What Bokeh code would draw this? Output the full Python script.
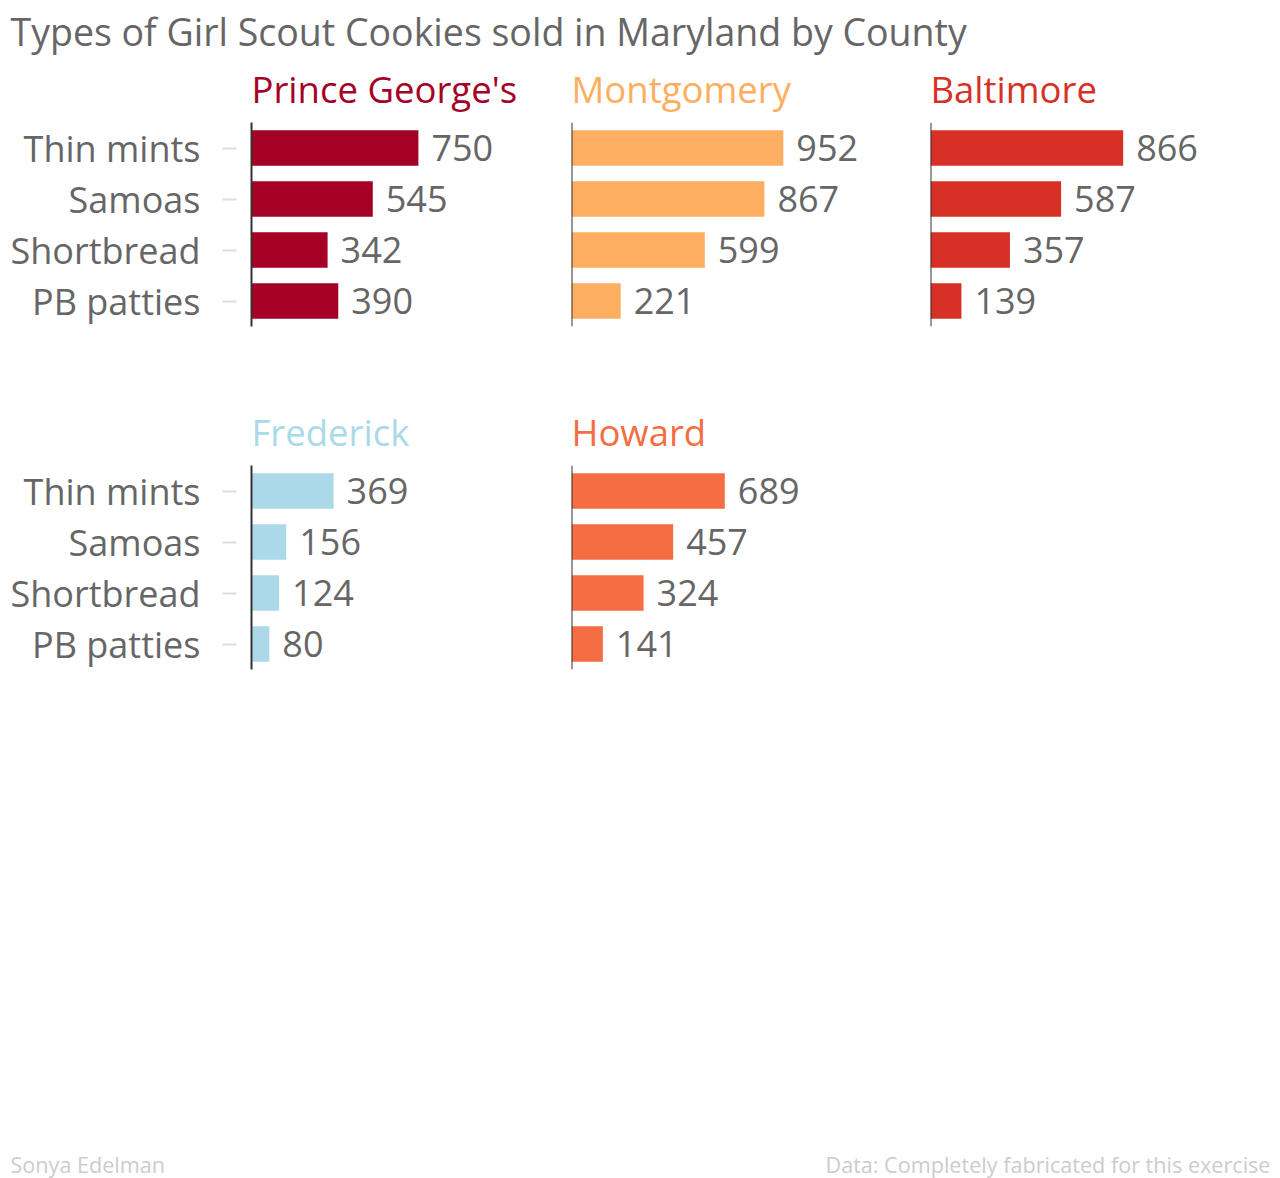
from bokeh.plotting import figure
from bokeh.models import Range1d, FactorRange, Label, ColumnDataSource, Spacer, Span
from bokeh.layouts import column, row
from bokeh.embed import file_html
from bokeh.resources import INLINE
from bokeh.core.properties import value

title_text = "Types of Girl Scout Cookies sold in Maryland by County"
author_text = "Sonya Edelman"
source_text = "Data: Completely fabricated for this exercise"
cookies = ["Thin mints", "Samoas", "Shortbread", "PB patties"]
counties = ["Prince George's", "Montgomery", "Baltimore", "Frederick", "Howard"]
prince_georges = [750, 545, 342, 390]
montgomery = [952, 867, 599, 221]
baltimore = [866, 587, 357, 139]
frederick = [369, 156, 124, 80]
howard = [689, 457, 324, 141]
county_colors = ["#a50026", "#fdae61", "#d73027", "#abd9e9", "#f46d43"]

FONT = "Open Sans"
GRAY = "#666666"
PX_PER_UNIT = 0.2225
FRAME_W = 309
FRAME_H = 204
HEADER_H = 60
STRIP_H = 62
PANEL_H = 281
BASE_FIX = 0.35  # alphabetic-baseline correction (fraction of font size)

# column geometry: (figure width, left border, right border)
COLS = [(560, 251, 0), (360, 11, 40), (360, 10, 41)]


def base_fig(width, height, **kw):
    p = figure(width=width, height=height, output_backend="svg", toolbar_location=None,
               background_fill_color="white", border_fill_color="white", **kw)
    p.outline_line_color = None
    p.grid.visible = False
    return p


def blank_fig(width, height):
    return base_fig(width, height, x_axis_location=None, y_axis_location=None,
                    x_range=Range1d(0, 1), y_range=Range1d(0, 1),
                    min_border_left=0, min_border_right=0, min_border_top=0, min_border_bottom=0)


def canvas_label(p, x, baseline_y, text, size, color, align="left"):
    p.add_layout(Label(x=x, y=baseline_y - BASE_FIX * size, x_units="canvas", y_units="canvas",
                       text=text, text_font=FONT, text_font_size=f"{size}px",
                       text_color=color, text_align=align, text_baseline="alphabetic"))


def panel(vals, color, col, show_labels):
    width, left_b, right_b = COLS[col]
    p = base_fig(width, PANEL_H,
                 x_range=Range1d(0, FRAME_W / PX_PER_UNIT),
                 y_range=FactorRange(factors=list(reversed(cookies)), range_padding=0),
                 x_axis_location=None,
                 y_axis_location="left" if show_labels else None,
                 min_border_left=left_b, min_border_right=right_b,
                 min_border_top=0, min_border_bottom=PANEL_H - FRAME_H)
    if show_labels:
        ax = p.yaxis[0]
        ax.axis_line_color = "#333333"
        ax.axis_line_width = 2
        ax.major_tick_in = -15
        ax.major_tick_out = 29
        ax.major_tick_line_color = "#dddddd"
        ax.major_tick_line_width = 2
        ax.major_label_standoff = 22
        ax.major_label_text_font = FONT
        ax.major_label_text_font_size = "36px"
        ax.major_label_text_color = GRAY
    else:
        p.add_layout(Span(location=0, dimension="height", line_color="#333333", line_width=2))
    src = ColumnDataSource(dict(cat=cookies, val=vals, lab=[str(v) for v in vals]))
    p.hbar(y="cat", left=0, right="val", height=0.7, source=src,
           fill_color=color, line_color=None)
    p.text(x="val", y="cat", text="lab", source=src, x_offset=13,
           text_baseline="middle", text_align="left",
           text_font=value(FONT), text_font_size="36px", text_color=GRAY)
    return p


def title_strip(names, colors):
    s = blank_fig(1280, STRIP_H)
    x0 = 0
    for i, (nm, c) in enumerate(zip(names, colors)):
        width, left_b, _ = COLS[i]
        canvas_label(s, x0 + left_b, 41, nm, 36.5, c)
        x0 += width
    return s


vals_all = [prince_georges, montgomery, baltimore, frederick, howard]
row1 = row(panel(vals_all[0], county_colors[0], 0, True),
           panel(vals_all[1], county_colors[1], 1, False),
           panel(vals_all[2], county_colors[2], 2, False))
row2 = row(panel(vals_all[3], county_colors[3], 0, True),
           panel(vals_all[4], county_colors[4], 1, False),
           Spacer(width=COLS[2][0], height=PANEL_H))
strip1 = title_strip(counties[0:3], county_colors[0:3])
strip2 = title_strip(counties[3:5], county_colors[3:5])

header = blank_fig(1280, HEADER_H)
canvas_label(header, 10, 44, title_text, 37.5, GRAY)

FOOT_H = 1178 - HEADER_H - 2 * (STRIP_H + PANEL_H)
footer = blank_fig(1280, FOOT_H)
canvas_label(footer, 10, FOOT_H - 6, author_text, 21.6, "#cccccc")
canvas_label(footer, 1270, FOOT_H - 6, source_text, 21.6, "#cccccc", align="right")

layout = column(header, strip1, row1, strip2, row2, footer)

open("out.html", "w").write(file_html(layout, INLINE))
